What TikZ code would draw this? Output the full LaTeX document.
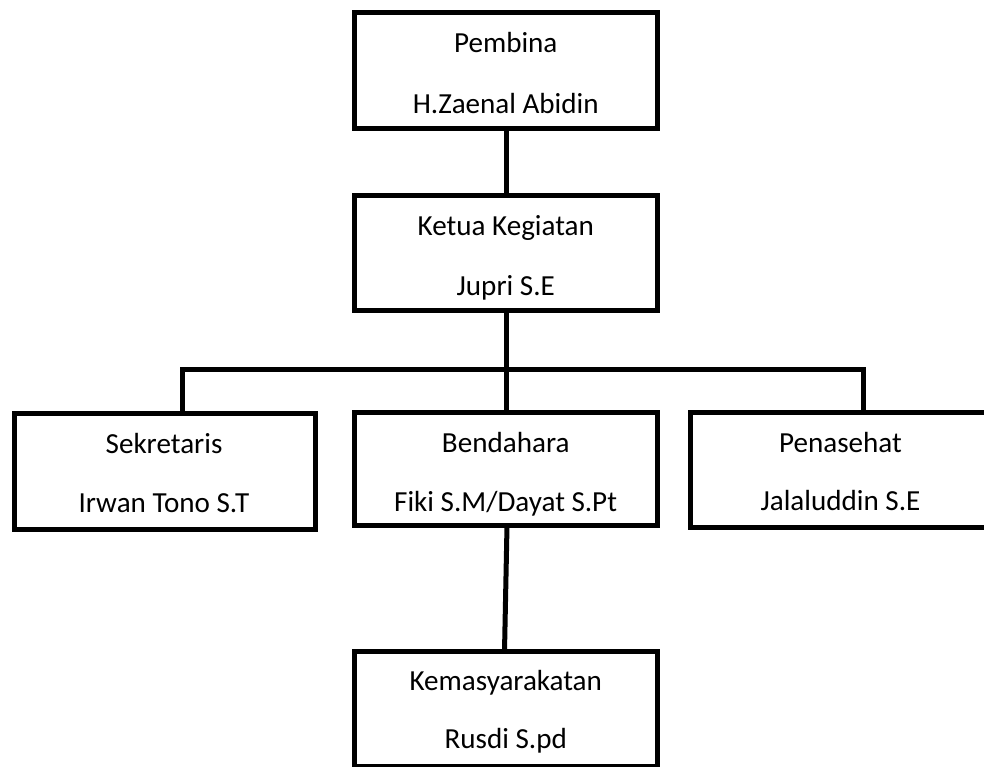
\documentclass[tikz,border=0pt]{standalone}
\usepackage{fontspec}
\setmainfont{Carlito}
\begin{document}
\begin{tikzpicture}[x=0.5pt,y=-0.5pt,
  orgbox/.style={draw=black,line width=2.5pt,fill=white,inner sep=0pt,rectangle},
  lbl/.style={anchor=base,inner sep=0pt,font=\fontsize{14.55}{17}\selectfont},
  conn/.style={draw=black,line width=2.5pt}]
\useasboundingbox (0,0) rectangle (984,766);
\clip (0,0) rectangle (984,766);
% boxes
\node[orgbox,minimum width=151.25pt,minimum height=58pt] (pem) at (505.75,70.5) {};
\node[orgbox,minimum width=151.25pt,minimum height=57.5pt] (ket) at (505.75,253) {};
\node[orgbox,minimum width=150.5pt,minimum height=58pt] (sek) at (165,471.5) {};
\node[orgbox,minimum width=151.25pt,minimum height=56.5pt] (ben) at (505.75,469) {};
\node[orgbox,minimum width=149.25pt,minimum height=57.5pt] (pen) at (839.75,470) {};
\node[orgbox,minimum width=151.25pt,minimum height=57.25pt] (kem) at (505.75,708.75) {};
% texts
\node[lbl] (pemA) at (505.75,52.5) {Pembina};
\node[lbl] (pemB) at (505.75,113) {H.Zaenal Abidin};
\node[lbl] (ketA) at (505.75,235) {Ketua Kegiatan};
\node[lbl] (ketB) at (505.75,295) {Jupri S.E};
\node[lbl] (sekA) at (164,453) {Sekretaris};
\node[lbl] (sekB) at (164,512) {Irwan Tono S.T};
\node[lbl] (benA) at (505.75,452) {Bendahara};
\node[lbl] (benB) at (505.75,511) {Fiki S.M/Dayat S.Pt};
\node[lbl] (penA) at (840.5,452) {Penasehat};
\node[lbl] (penB) at (840.5,510) {Jalaluddin S.E};
\node[lbl] (kemA) at (505.75,690) {Kemasyarakatan};
\node[lbl] (kemB) at (505.75,748) {Rusdi S.pd};
% connectors
\coordinate (busL) at (182.5,369.5);
\coordinate (busR) at (863.5,369.5);
\draw[conn] ([xshift=0.6pt]pem.south) -- ([xshift=0.6pt]ket.north);
\draw[conn] ([xshift=0.3pt]ket.south) -- ([xshift=0.3pt]ben.north);
\draw[conn] (busL |- sek.north) -- (busL) -- (busR) -- (busR |- pen.north);
\draw[conn] ([xshift=0.6pt]ben.south) -- ([xshift=-0.6pt]kem.north);
\end{tikzpicture}
\end{document}
